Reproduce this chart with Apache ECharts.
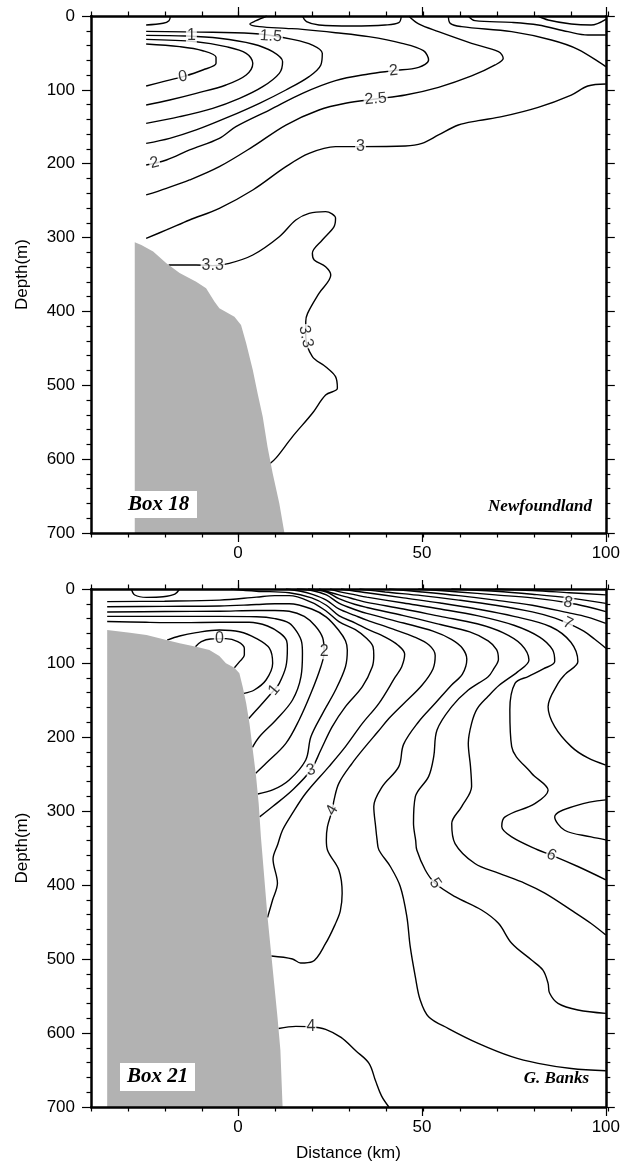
<!DOCTYPE html>
<html>
<head>
<meta charset="utf-8">
<script src="https://cdn.jsdelivr.net/npm/echarts@6/dist/echarts.min.js"></script>
<style>
  html, body { margin: 0; padding: 0; background: #fff; }
  #chart { width: 623px; height: 1165px; }
</style>
</head>
<body>
<div id="chart"></div>
<script>
// ---- axes ----
const distanceTicks = [0, 50, 100];
const depthTicks = [0, 100, 200, 300, 400, 500, 600, 700];

// ---- Box 18 (Newfoundland): temperature contours, points are [distance km, depth m] ----
const nfHook = [[-25, 12.2], [-20.4, 9.9], [-18.8, 6.3], [-18.4, 0]];
const nf00 = [[-25, 37.9], [-15.9, 41.5], [-9.6, 47], [-6.0, 56], [-6.0, 64.1], [-9.6, 73.1], [-15, 82.1], [-20.4, 88.9], [-25, 94.8]];
const nf05 = [[-25, 31.6], [-11.4, 34.8], [-3.3, 41.5], [2.2, 50.5], [4.0, 64.1], [2.2, 79.9], [-3.3, 93.4], [-11.4, 104.7], [-18.6, 113.7], [-25, 120.5]];
const nf10 = [[-25, 26.2], [-14.1, 27.1], [-5.1, 30.2], [4.0, 37.9], [9.4, 48.3], [12.1, 61.8], [11.2, 77.6], [6.7, 95.7], [0.4, 111.5], [-6.9, 125], [-15.9, 136.3], [-25, 145.3]];
const nf15 = [[-25, 20.8], [-6.9, 22.1], [5.8, 24.4], [14.8, 31.6], [20.2, 39.3], [22.9, 50.5], [22.5, 66.3], [19.3, 82.1], [13.0, 100.2], [5.8, 118.2], [-2.4, 136.3], [-11.4, 154.3], [-18.6, 165.6], [-25, 172.4]];
const nf20 = [[7.8, 0], [4.9, 6.3], [3.2, 10.8], [5.8, 14.4], [13.0, 16.7], [17.5, 18.1], [26.5, 22.6], [35.5, 28.0], [44.6, 37.0], [50.4, 47.0], [51.8, 59.6], [49.1, 69.5], [42.3, 74.0], [35.5, 78.5], [26.5, 87.5], [17.5, 104.7], [8.5, 127.3], [-0.6, 149.8], [-5.1, 165.6], [-13.2, 181.4], [-19.5, 195], [-25, 201.7]];
const nf25 = [[46.4, 0], [49.1, 10.8], [54.5, 21.2], [63.5, 37], [70.8, 48.3], [72.1, 57.3], [69.9, 66.3], [63.5, 81.2], [54.5, 96.6], [45.5, 107], [37.4, 112.4], [29.2, 118.2], [22.0, 127.3], [13.0, 147.6], [4.0, 176.9], [-5.1, 204], [-13.2, 222], [-19.5, 233.3], [-25, 242.3]];
const nf30 = [[100, 92], [95.1, 94.8], [90.6, 107], [81.6, 123.7], [71.7, 136.3], [65.3, 141.7], [59.9, 147.6], [54.5, 161.1], [50, 172.4], [45.5, 176], [33.3, 176.9], [26.5, 176.9], [19.3, 186], [13, 204], [4, 235.6], [-5.1, 260.4], [-13.2, 276.2], [-19.5, 289.7], [-25, 301]];
const nf33 = [[-18.9, 337.1], [-11.4, 337.1], [-6.9, 338], [-2.4, 334.9], [4.0, 323.6], [11.2, 298.8], [15.7, 276.2], [19.3, 267.2], [23.8, 264.9], [26.5, 274], [26.1, 285.2], [22.9, 303.3], [20.2, 321.3], [20.7, 330.4], [23.8, 339.4], [25.2, 350.7], [22, 375.5], [18.9, 402.6], [18.4, 413.8], [18.4, 434.1], [20.2, 461.2], [23.8, 474.8], [26.5, 488.3], [27, 504.1], [23.8, 513.1], [20.2, 537.9], [14.8, 569.5], [10.4, 598], [8.7, 606]];
const nfSurfA = [[17.5, 0], [18.6, 7.7], [22, 12.2], [31, 13.5], [40, 12.2], [43.7, 9.0], [44.4, 0]];
const nfSurfB = [[57.2, 0], [57.7, 10], [60.8, 14.4], [74.4, 21.2], [85.2, 32.5], [92.4, 45.1], [100, 68.6]];
const nfSurfC = [[62.6, 0], [64.4, 6.3], [74.4, 8.6], [81.6, 12.2], [89.7, 21.2], [95.1, 25.7], [100, 25.7]];
const nfSurfD = [[81.6, 0], [84.3, 5.4], [90.6, 10.8], [96, 12.2], [100, 4.5]];
// shelf slope outline
const nfLand = [[-28.1, 306.4], [-26.3, 310], [-23.1, 319], [-19.5, 334.9], [-15.9, 348], [-11.4, 359.7], [-8.7, 368.7], [-6.4, 386.8], [-5.1, 395.8], [-1.0, 407.1], [0.8, 418.4], [2.2, 443.2], [4.0, 479.3], [5.3, 510.9], [6.7, 542.5], [8.0, 583.1], [9.4, 619.2], [11.2, 659.8], [12.6, 700], [-28.1, 700]];
// contour labels: [distance, depth, text, rotation]
const nfLabels = [
  [-12.7, 27.1, '1', 0], [8.9, 27.5, '1.5', -4], [-15, 82.1, '0', 10],
  [-22.7, 198.9, '2', 14], [42.3, 74, '2', 5], [37.4, 112.4, '2.5', 5],
  [33.3, 176.9, '3', 0], [-6.9, 338, '3.3', 0], [18.4, 434, '3.3', -78]
];

// ---- Box 21 (G. Banks) ----
const gbSurf = [[-29, 0], [-28.1, 8.1], [-24.9, 11.3], [-20.4, 10.4], [-17.2, 6.8], [-15.9, 0]];
const gb00 = [[-11.6, 78], [-10, 71.2], [-7.5, 67.5], [-3.3, 67], [-0.1, 71.2], [1.7, 80.2], [1.7, 89.2], [0.4, 98.2], [-1.0, 106.3]];
const gb05 = [[-19.3, 69], [-15.9, 63.5], [-11.4, 59], [-5.1, 55.4], [0.4, 57.7], [4.9, 66.7], [8.5, 80], [9.4, 100.5], [7.6, 123], [4.4, 136.5], [1.6, 141]];
const gb10 = [[-35.6, 44], [-25, 45], [-15, 45.5], [-5, 45], [3, 45], [8, 50], [11.5, 60], [13.2, 70], [13.4, 80], [13, 105], [11.2, 127.5], [9.8, 136.5], [5.8, 159], [2.9, 175]];
const gb15 = [[-35.6, 37], [-20, 37], [-5, 37], [5, 37.5], [10, 40], [13.9, 46], [16, 58], [17.3, 72], [17.5, 87], [17.1, 118.5], [14.8, 150], [10.3, 177], [5.8, 199.6], [3.9, 214]];
const gb20 = [[-35.6, 31], [-20, 30.5], [-5, 30], [5, 29], [10, 29], [13.9, 30], [18, 37], [21, 50], [23, 66], [23.4, 84.7], [22.5, 105], [19.8, 141], [16.6, 177], [13, 208.6], [7.6, 235.6], [4.8, 249]];
const gb25 = [[-35.6, 24], [-20, 23.5], [-5, 23], [5, 21], [10, 20], [13.9, 20], [20, 27], [24, 38], [27.4, 56], [29.2, 70], [29.7, 82.5], [29.2, 105], [26.5, 136.5], [23, 168], [19.8, 199.6], [18.4, 231], [13.9, 258], [9.4, 271.6], [5.35, 277]];
const gb30 = [[-35.6, 17], [-20, 16.5], [-5, 15], [5, 11], [10, 9], [13.9, 9], [20, 18], [24, 30], [27.4, 44], [31.9, 55], [35, 67], [36.7, 78], [36.9, 90], [36.5, 105], [33.8, 132], [29.2, 159], [25.6, 186], [22.5, 217.6], [19.8, 244.6], [14.8, 271.6], [9.4, 294], [5.85, 308]];
const gb35 = [[-2, 0], [5, 3], [13.9, 5], [20, 12], [24, 22], [27.4, 36], [31.9, 46], [35, 54], [40, 65], [43.5, 76], [45.3, 88], [44.5, 105], [42.8, 118.5], [38.3, 154.5], [33.8, 181.6], [29.2, 213], [24.7, 240], [18.4, 276], [14.8, 303], [12.1, 325.7], [10.8, 345], [9.5, 365], [10.7, 397.7], [9.4, 420], [8.0, 444]];
const gb40 = [[13, 0], [17, 3], [20, 7], [24, 15], [27.4, 27], [31.9, 36], [35, 42], [42, 54], [48, 65], [52, 76], [53.6, 90], [53, 108], [50, 130], [45, 155], [41, 175], [38, 193], [34.6, 213], [31, 235.6], [27.4, 262.6], [26.1, 285], [25.6, 299], [24.3, 321], [24, 339], [24.3, 352.7], [27.4, 379.7], [28.3, 411], [27.8, 435], [26.5, 452], [23.8, 479], [20.2, 503.6], [17, 505.5], [14.8, 500], [9.05, 496]];
const gb40b = [[11, 594], [15.7, 591], [19.8, 591.5], [23.8, 595], [28, 606], [32, 624], [35.6, 641], [37.4, 665], [39, 685], [41, 700]];
const gb45 = [[16, 0], [20, 2], [24, 8], [27.4, 19], [31.9, 28], [35, 33], [45, 46], [53, 57], [58, 68], [61, 80], [62.2, 95], [61, 115], [58, 130], [53.6, 154.5], [49, 180], [45, 210], [43.7, 240], [39.2, 267], [36.9, 294], [37.4, 321], [37.8, 339], [38.3, 352.7], [41.4, 375], [44.1, 402], [45.9, 443], [46.8, 483], [48.2, 524], [49.5, 555], [51.8, 578], [57.2, 594], [65.3, 614], [74.4, 632], [81.6, 641], [90.6, 648], [100, 651]];
const gb50 = [[19, 0], [24, 4], [27.4, 13], [31.9, 21], [35, 25], [45, 36], [55, 48], [63, 58], [68, 70], [70.3, 82], [70.8, 95], [69.5, 108], [68, 118.5], [62.6, 136.5], [58.1, 159], [54.1, 190.6], [53.2, 226.6], [51.8, 253.6], [48.2, 280.7], [47.7, 316.7], [48.3, 340], [48.6, 352.7], [50.9, 379.7], [53.6, 397.7], [59, 415.8], [66.2, 433.8], [70.8, 451.8], [74.4, 478.8], [79.8, 501.4], [82.9, 515], [84.3, 533], [84.7, 546], [87, 560], [92.4, 569], [100, 573.5]];
const gb55 = [[22, 0], [27.4, 8], [31.9, 14], [35, 18], [45, 27], [55, 37], [65, 47], [72, 59], [77, 75], [79.1, 96], [76, 112], [71, 130], [68, 145], [65, 162], [63.5, 181.6], [62.6, 208.6], [63.2, 240], [63.5, 267], [60.8, 294], [58.1, 317], [59, 344], [64.4, 371], [70.8, 384], [78, 397.7], [83.4, 411], [90.6, 434], [96, 452], [100, 467.6]];
const gb60 = [[25, 0], [27.4, 3.5], [31.9, 8], [35, 11], [45, 19], [55, 27], [65, 36], [75, 49], [82, 65], [85.5, 82], [86.1, 98], [83, 108], [79, 118], [75.3, 127.5], [73.9, 163.5], [74.4, 213], [79.8, 249], [84.3, 272], [80.7, 290], [72.6, 308], [71.7, 321], [74.4, 335], [81.6, 352.7], [85.2, 359.5], [92.4, 375], [100, 393]];
const gb65 = [[28, 0], [31.9, 3], [35, 5], [45, 12], [55, 19], [65, 27], [75, 37], [85, 51], [90.5, 72], [92.4, 98], [89, 115], [87, 127.5], [84.3, 159], [86.1, 186], [90.6, 213], [95, 228], [100, 238]];
const gb65b = [[100, 285], [92.4, 292], [86.1, 308], [88.8, 326], [96, 335], [100, 339]];
const gb70 = [[33, 0], [40, 4], [50, 9], [60, 15], [70, 22], [80, 31], [86, 39], [89.7, 46.4], [94, 57], [97, 68], [100, 80]];
const gb75 = [[41, 0], [50, 4], [60, 9], [70, 15], [80, 22], [89.7, 32], [95, 38], [100, 46.4]];
const gb80 = [[49, 0], [60, 4], [70, 8], [80, 12], [89.7, 18.5], [95, 24], [100, 30.6]];
const gb85 = [[58, 0], [70, 3], [80, 7], [90, 12], [100, 19.4]];
const gb90 = [[70, 0], [80, 2], [90, 5], [100, 8]];
const gbLand = [[-35.6, 55.4], [-29.4, 59], [-24.9, 62.2], [-19.5, 68.9], [-15.9, 73.4], [-11.4, 78], [-7.8, 82.4], [-5.1, 90.5], [-3.3, 100.5], [-1.0, 106.3], [0.35, 114], [1.25, 132], [2.2, 154.5], [3.1, 181.6], [4.0, 217.6], [4.9, 253.6], [5.6, 289.7], [6.2, 334.7], [6.5, 352.7], [8.0, 442.8], [8.9, 487.9], [9.8, 532.9], [10.7, 578], [11.5, 623], [12.1, 700], [-35.6, 700]];
const gbLabels = [
  [-5.1, 67.3, '0', 0], [9.8, 136.5, '1', 50], [23.4, 84.7, '2', 0],
  [19.8, 244.6, '3', 15], [25.6, 299, '4', 60], [19.8, 591.5, '4', 0],
  [53.6, 397.7, '5', -55], [85.2, 359.5, '6', -25], [89.7, 46.4, '7', -25], [89.7, 18.5, '8', -12]
];

const nfLines = [nfHook, nf00, nf05, nf10, nf15, nf20, nf25, nf30, nf33, nfSurfA, nfSurfB, nfSurfC, nfSurfD];
const gbLines = [gbSurf, gb00, gb05, gb10, gb15, gb20, gb25, gb30, gb35, gb40, gb40b, gb45, gb50, gb55, gb60, gb65, gb65b, gb70, gb75, gb80, gb85, gb90];

// ---- styling helpers ----
const SANS = '"Liberation Sans", Arial, Helvetica, sans-serif';
const SERIF = '"Liberation Serif", "Times New Roman", serif';
const FRAME_W = 2.5;

function contour(pts, xi, yi) {
  return {
    type: 'line', xAxisIndex: xi, yAxisIndex: yi, data: pts,
    smooth: 0.35, symbol: 'none', silent: true, z: 2,
    lineStyle: { color: '#000', width: 1.4 }
  };
}
function land(pts, xi, yi) {
  return {
    type: 'custom', xAxisIndex: xi, yAxisIndex: yi, z: 3, silent: true,
    data: [[pts[0][0], pts[0][1]]],
    renderItem: (params, api) => ({
      type: 'polygon',
      shape: { points: pts.map(p => api.coord(p)) },
      style: { fill: '#b2b2b2' }
    })
  };
}
function labels(list, xi, yi) {
  return {
    type: 'scatter', xAxisIndex: xi, yAxisIndex: yi, z: 4, silent: true,
    symbolSize: 1, itemStyle: { color: 'rgba(0,0,0,0)' },
    data: list.map(([x, y, t, r]) => ({ value: [x, y], label: { formatter: t, rotate: r } })),
    label: {
      show: true, position: 'inside', color: '#000', fontFamily: SANS, fontSize: 16,
      backgroundColor: '#fff', padding: [0, 1], lineHeight: 15
    }
  };
}

function mainX(grid, pos, withLabels, name) {
  return {
    type: 'value', gridIndex: grid, position: pos, min: -40, max: 100, z: 10,
    axisLine: { show: true, onZero: false, lineStyle: { color: '#000', width: FRAME_W } },
    axisTick: { show: true, customValues: distanceTicks, length: 9, lineStyle: { color: '#000', width: 1.2 } },
    axisLabel: withLabels ? { show: true, customValues: distanceTicks, color: '#000', fontFamily: SANS, fontSize: 17, margin: 12 } : { show: false },
    splitLine: { show: false },
    name: name || '', nameLocation: 'middle', nameGap: 38,
    nameTextStyle: { color: '#000', fontFamily: SANS, fontSize: 17 }
  };
}
function minorX(grid, pos) {
  return {
    type: 'value', gridIndex: grid, position: pos, min: -40, max: 100, interval: 10, z: 10,
    axisLine: { show: false, onZero: false },
    axisTick: { show: true, length: 4.5, lineStyle: { color: '#000', width: 1.2 } },
    axisLabel: { show: false }, splitLine: { show: false }
  };
}
function mainY(grid, pos, withLabels) {
  return {
    type: 'value', gridIndex: grid, position: pos, min: 0, max: 700, interval: 100, inverse: true, z: 10,
    axisLine: { show: true, onZero: false, lineStyle: { color: '#000', width: FRAME_W } },
    axisTick: { show: true, length: 9, lineStyle: { color: '#000', width: 1.2 } },
    minorTick: { show: true, splitNumber: 5, length: 4.5, lineStyle: { color: '#000', width: 1.2 } },
    axisLabel: withLabels ? { show: true, customValues: depthTicks, color: '#000', fontFamily: SANS, fontSize: 17, margin: 16 } : { show: false },
    splitLine: { show: false }, minorSplitLine: { show: false },
    name: withLabels ? 'Depth(m)' : '', nameLocation: 'middle', nameGap: 60,
    nameTextStyle: { color: '#000', fontFamily: SANS, fontSize: 17 }
  };
}
function hiddenY(grid) {
  return { type: 'value', gridIndex: grid, min: 0, max: 700, inverse: true, show: false, axisLine: { onZero: false } };
}

const topRect = { left: 91, top: 16, width: 517, height: 517 };
const botRect = { left: 91, top: 589, width: 517, height: 518 };

const series = [];
nfLines.forEach(p => series.push(contour(p, 0, 0)));
series.push(land(nfLand, 0, 0));
series.push(labels(nfLabels, 0, 0));
gbLines.forEach(p => series.push(contour(p, 2, 2)));
series.push(land(gbLand, 2, 2));
series.push(labels(gbLabels, 2, 2));

const option = {
  animation: false,
  backgroundColor: '#fff',
  textStyle: { fontFamily: SANS },
  grid: [
    Object.assign({}, topRect), Object.assign({}, botRect),
    Object.assign({}, topRect), Object.assign({}, botRect)
  ],
  xAxis: [
    mainX(0, 'bottom', true), mainX(0, 'top', false),
    mainX(1, 'bottom', true, 'Distance (km)'), mainX(1, 'top', false),
    minorX(2, 'bottom'), minorX(2, 'top'),
    minorX(3, 'bottom'), minorX(3, 'top')
  ],
  yAxis: [
    mainY(0, 'left', true), mainY(0, 'right', false),
    mainY(1, 'left', true), mainY(1, 'right', false),
    hiddenY(2), hiddenY(3)
  ],
  series: series,
  graphic: [
    { type: 'rect', shape: { x: 126, y: 491, width: 71, height: 27 }, style: { fill: '#fff' }, z: 20 },
    { type: 'text', x: 128, y: 505, style: { text: 'Box 18', font: 'italic bold 21px ' + SERIF, fill: '#000', align: 'left', verticalAlign: 'middle' }, z: 21 },
    { type: 'text', x: 592, y: 507, style: { text: 'Newfoundland', font: 'italic bold 17px ' + SERIF, fill: '#000', align: 'right', verticalAlign: 'middle' }, z: 21 },
    { type: 'rect', shape: { x: 120, y: 1063, width: 75, height: 28 }, style: { fill: '#fff' }, z: 20 },
    { type: 'text', x: 127, y: 1077, style: { text: 'Box 21', font: 'italic bold 21px ' + SERIF, fill: '#000', align: 'left', verticalAlign: 'middle' }, z: 21 },
    { type: 'text', x: 589, y: 1079, style: { text: 'G. Banks', font: 'italic bold 17px ' + SERIF, fill: '#000', align: 'right', verticalAlign: 'middle' }, z: 21 }
  ]
};

const chart = echarts.init(document.getElementById('chart'), null, { renderer: 'canvas' });
chart.setOption(option);
</script>
</body>
</html>
